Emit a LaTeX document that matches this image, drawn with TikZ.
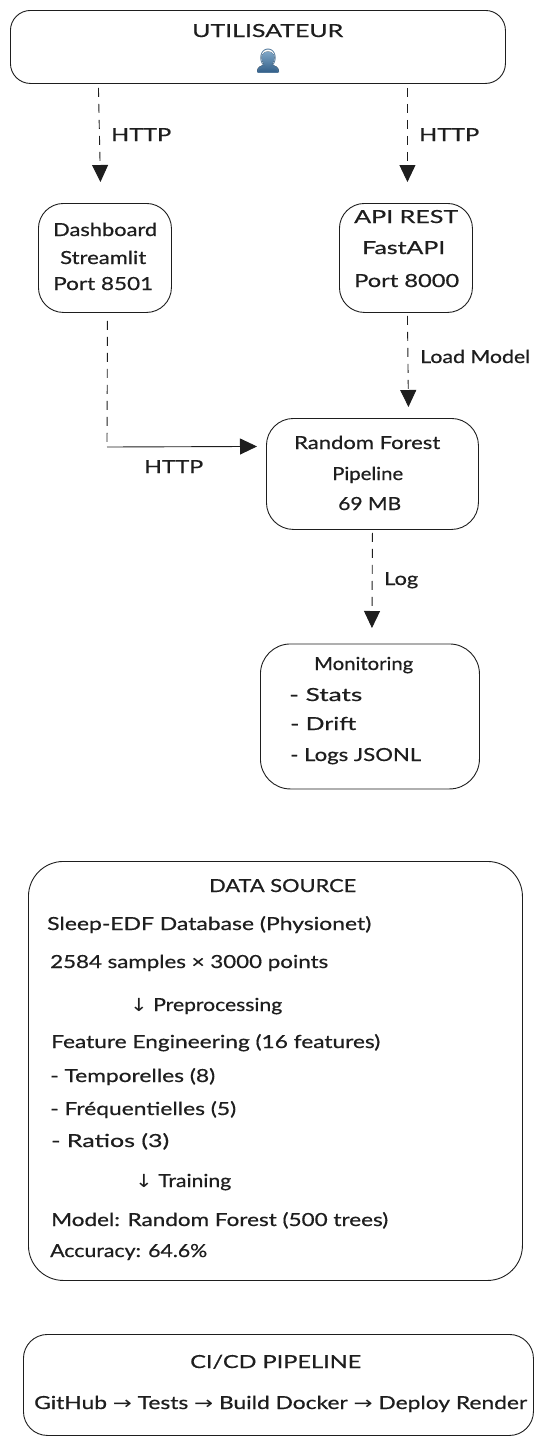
\documentclass[tikz,border=0pt]{standalone}
\usepackage{fontspec}
\usepackage{graphicx}
\setmainfont[RawFeature={embolden=0.5}]{Lato}
\newfontfamily\arrowfont{DejaVu Sans}
\newfontfamily\emojifont{Noto Emoji}
\usetikzlibrary{arrows.meta}
\definecolor{ink}{HTML}{1E1E1E}
\definecolor{bust}{HTML}{4A7398}
\definecolor{bustlight}{HTML}{7FA6C6}
\definecolor{bustdark}{HTML}{33608A}
\newlength{\tlwd}
\newsavebox{\tlbox}
% \fitw{width}{text}: set the text, then scale it horizontally to the width
\newcommand{\fitw}[2]{%
  \sbox{\tlbox}{#2}%
  \setlength{\tlwd}{\wd\tlbox}%
  \pgfmathsetmacro{\tlratio}{(#1)/(\tlwd/1pt)}%
  \scalebox{\tlratio}[1]{\usebox{\tlbox}}%
}
% \tl{name}{left x}{right x}{baseline y}{text}
\newcommand{\tl}[5]{\node[linetext] (#1) at (#2,-#4) {\fitw{#3-#2}{#5}};}
\newcommand{\ar}[1]{{\arrowfont #1}}
\tikzset{
  x=1pt,y=1pt,
  box/.style={draw=ink,line width=0.9pt,fill=white,inner sep=0pt,anchor=north west},
  linetext/.style={anchor=base west,inner sep=0pt,text=ink,font=\fontsize{18}{20}\selectfont},
  conn/.style={draw=ink,line width=0.9pt,dash pattern=on 9pt off 7pt},
  head/.style={-{Triangle[length=17pt,width=16pt,fill=ink]}},
  plainline/.style={draw=ink,line width=0.9pt}
}
\begin{document}
\begin{tikzpicture}
\useasboundingbox (0,0) rectangle (542,-1444);
% boxes
\node[box,rounded corners=20pt,minimum width=495pt,minimum height=73pt] (user) at (10,-10) {};
\node[box,rounded corners=25pt,minimum width=133pt,minimum height=109pt] (dash) at (38,-203) {};
\node[box,rounded corners=25pt,minimum width=133pt,minimum height=109pt] (api) at (339,-203) {};
\node[box,rounded corners=27pt,minimum width=212pt,minimum height=111pt] (rf) at (266,-418) {};
\node[box,rounded corners=30pt,minimum width=219pt,minimum height=145pt] (mon) at (260,-643.5) {};
\node[box,rounded corners=35pt,minimum width=494pt,minimum height=419pt] (data) at (28,-861) {};
\node[box,rounded corners=24pt,minimum width=510pt,minimum height=101pt] (cicd) at (23,-1334) {};
% connectors
\draw[conn,head] ([xshift=-159.5pt,yshift=-4pt]user.south) -- ([xshift=-4.5pt,yshift=21pt]dash.north);
\draw[conn,head] ([xshift=149.5pt,yshift=-4pt]user.south) -- ([xshift=1.5pt,yshift=21pt]api.north);
\draw[conn,head] ([xshift=1.5pt,yshift=-3pt]api.south) -- ([xshift=36pt,yshift=11pt]rf.north);
\draw[conn,head] ([yshift=-3pt]rf.south) -- ([xshift=2pt,yshift=15.5pt]mon.north);
\coordinate (bend) at (107,-447);
\draw[conn] ([xshift=2.5pt,yshift=-8pt]dash.south) -- (bend);
\draw[plainline,head] (bend) -- ([xshift=-9pt,yshift=27.5pt]rf.west);
% labels
\tl{tuser}{192}{343}{37}{UTILISATEUR}
% solid bust under the emoji glyph
\fill[top color=bustlight,bottom color=bustdark] (257,-72) .. controls (257,-66.5) and (261,-66) .. (264,-64.5) .. controls (262.5,-62) and (261.5,-60) .. (261.5,-57.5) .. controls (261.5,-54) and (264.5,-51.5) .. (268,-51.5) .. controls (271.5,-51.5) and (274.5,-54) .. (274.5,-57.5) .. controls (274.5,-60) and (273.5,-62) .. (272,-64.5) .. controls (275,-66) and (279,-66.5) .. (279,-72) -- cycle;
\node[inner sep=0pt,text=bust,font=\emojifont\fontsize{24}{24}\selectfont] (ticon) at (268,-61) {\symbol{"1F464}};
\tl{ld1}{111}{171}{141}{HTTP}
\tl{ld2}{419}{479}{141}{HTTP}
\tl{dasha}{53}{157}{236}{Dashboard}
\tl{dashb}{60}{146}{264}{Streamlit}
\tl{dashc}{53}{153}{290}{Port 8501}
\tl{apia}{354}{458}{223}{API REST}
\tl{apib}{362}{445}{254}{FastAPI}
\tl{apic}{354}{459}{287}{Port 8000}
\tl{ld3}{420}{530}{363}{Load Model}
\tl{ld4}{144}{203}{473}{HTTP}
\tl{rfa}{294}{440}{449}{Random Forest}
\tl{rfb}{332}{403}{480}{Pipeline}
\tl{rfc}{338}{401}{510}{69 MB}
\tl{ld5}{384}{418}{585}{Log}
\tl{mona}{314}{413}{670}{Monitoring}
\tl{monb}{289}{362}{701}{- Stats}
\tl{monc}{290}{356}{730}{- Drift}
\tl{mond}{290}{421}{761}{- Logs JSONL}
\tl{da}{209}{356}{892}{DATA SOURCE}
\tl{db}{47}{371}{930}{Sleep-EDF Database (Physionet)}
\tl{dc}{50}{328}{968}{2584 samples × 3000 points}
\tl{dd}{130}{282}{1011}{\ar{↓} Preprocessing}
\tl{de}{51}{380}{1048}{Feature Engineering (16 features)}
\tl{df}{50}{215}{1082}{- Temporelles (8)}
\tl{dg}{50}{236}{1115}{- Fréquentielles (5)}
\tl{dh}{51}{169}{1147}{- Ratios (3)}
\tl{di}{135}{231}{1187}{\ar{↓} Training}
\tl{dj}{51}{388}{1226}{Model: Random Forest (500 trees)}
\tl{dk}{50}{207}{1257}{Accuracy: 64.6\%}
\tl{ca}{190}{361}{1368}{CI/CD PIPELINE}
\tl{cb}{34}{527}{1409}{GitHub \ar{→} Tests \ar{→} Build Docker \ar{→} Deploy Render}
\end{tikzpicture}
\end{document}
